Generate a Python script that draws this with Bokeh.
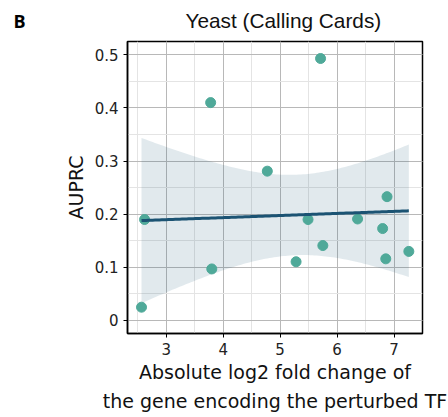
import numpy as np
from bokeh.plotting import figure
from bokeh.models import Range1d, SingleIntervalTicker, Title
from bokeh.embed import file_html
from bokeh.resources import INLINE

# Absolute log2 fold change of the TF gene vs. AUPRC (Calling Cards)
log2fc = [3.78, 5.71, 4.775, 6.877, 2.62, 3.80, 2.566, 5.49, 6.36, 6.80, 5.75, 5.28, 6.855, 7.26]
auprc = [0.410, 0.493, 0.281, 0.233, 0.190, 0.097, 0.025, 0.190, 0.191, 0.173, 0.141, 0.1105, 0.116, 0.130]
x_ticks = [3, 4, 5, 6, 7]
y_ticks = [0, 0.1, 0.2, 0.3, 0.4, 0.5]

POINT = "#4fa999"
LINE = "#1b5373"

# OLS fit with a 95% confidence band
x = np.asarray(log2fc)
y = np.asarray(auprc)
n = len(x)
slope, intercept = np.polyfit(x, y, 1)
resid = y - (slope * x + intercept)
s = np.sqrt(np.sum(resid ** 2) / (n - 2))
t_crit = 2.179  # two-sided 95%, df = 12
xs = np.linspace(x.min(), x.max(), 120)
ys = slope * xs + intercept
se = s * np.sqrt(1.0 / n + (xs - x.mean()) ** 2 / np.sum((x - x.mean()) ** 2))

p = figure(width=448, height=417, output_backend="svg", toolbar_location=None,
           x_range=Range1d(2.32, 7.50), y_range=Range1d(-0.0245, 0.525),
           min_border_left=127, min_border_right=26, min_border_top=41, min_border_bottom=84)

# panel letter (outermost title, pulled down onto the heading row)
p.title.text = "B"
p.title.align = "left"
p.title.offset = -114
p.title.standoff = -64
p.title.text_font = "Open Sans"
p.title.text_font_size = "18px"
p.title.text_font_style = "bold"
p.title.text_color = "black"

# heading (innermost title)
p.add_layout(Title(text="Yeast (Calling Cards)", align="left", offset=58, standoff=16,
                   vertical_align="top",
                   text_font="Liberation Sans", text_font_size="20.8px",
                   text_font_style="normal", text_color="#111111"), "above")

p.outline_line_color = "black"
p.outline_line_width = 1.5

p.xaxis.ticker = SingleIntervalTicker(interval=1, num_minor_ticks=2)
p.yaxis.ticker = SingleIntervalTicker(interval=0.1, num_minor_ticks=2)
p.yaxis.major_label_overrides = {0: "0"}
for ax in (p.xaxis, p.yaxis):
    ax.axis_line_width = 1.5
    ax.major_tick_in = 0
    ax.major_tick_out = 4
    ax.minor_tick_line_color = None
    ax.major_label_text_font = "DejaVu Sans"
    ax.major_label_text_font_size = "15px"
    ax.major_label_text_color = "#222222"
    ax.axis_label_text_font = "DejaVu Sans"
    ax.axis_label_text_font_size = "19px"
    ax.axis_label_text_font_style = "normal"
    ax.axis_label_text_color = "#111111"
p.xaxis.axis_label = "Absolute log2 fold change of\nthe gene encoding the perturbed TF"
p.xaxis.axis_label_text_line_height = 1.35
p.xaxis.axis_label_standoff = 3
p.yaxis.axis_label = "AUPRC"

for g in (p.xgrid, p.ygrid):
    g.grid_line_color = "#b8b8b8"
    g.grid_line_width = 1
    g.minor_grid_line_color = "#e4e4e4"
    g.minor_grid_line_width = 1

p.varea(x=xs, y1=ys - t_crit * se, y2=ys + t_crit * se, fill_color=LINE, fill_alpha=0.13)
p.scatter(log2fc, auprc, size=10, fill_color=POINT, line_color=POINT)
p.line(xs, ys, line_color=LINE, line_width=3)

open("out.html", "w").write(file_html(p, INLINE))
